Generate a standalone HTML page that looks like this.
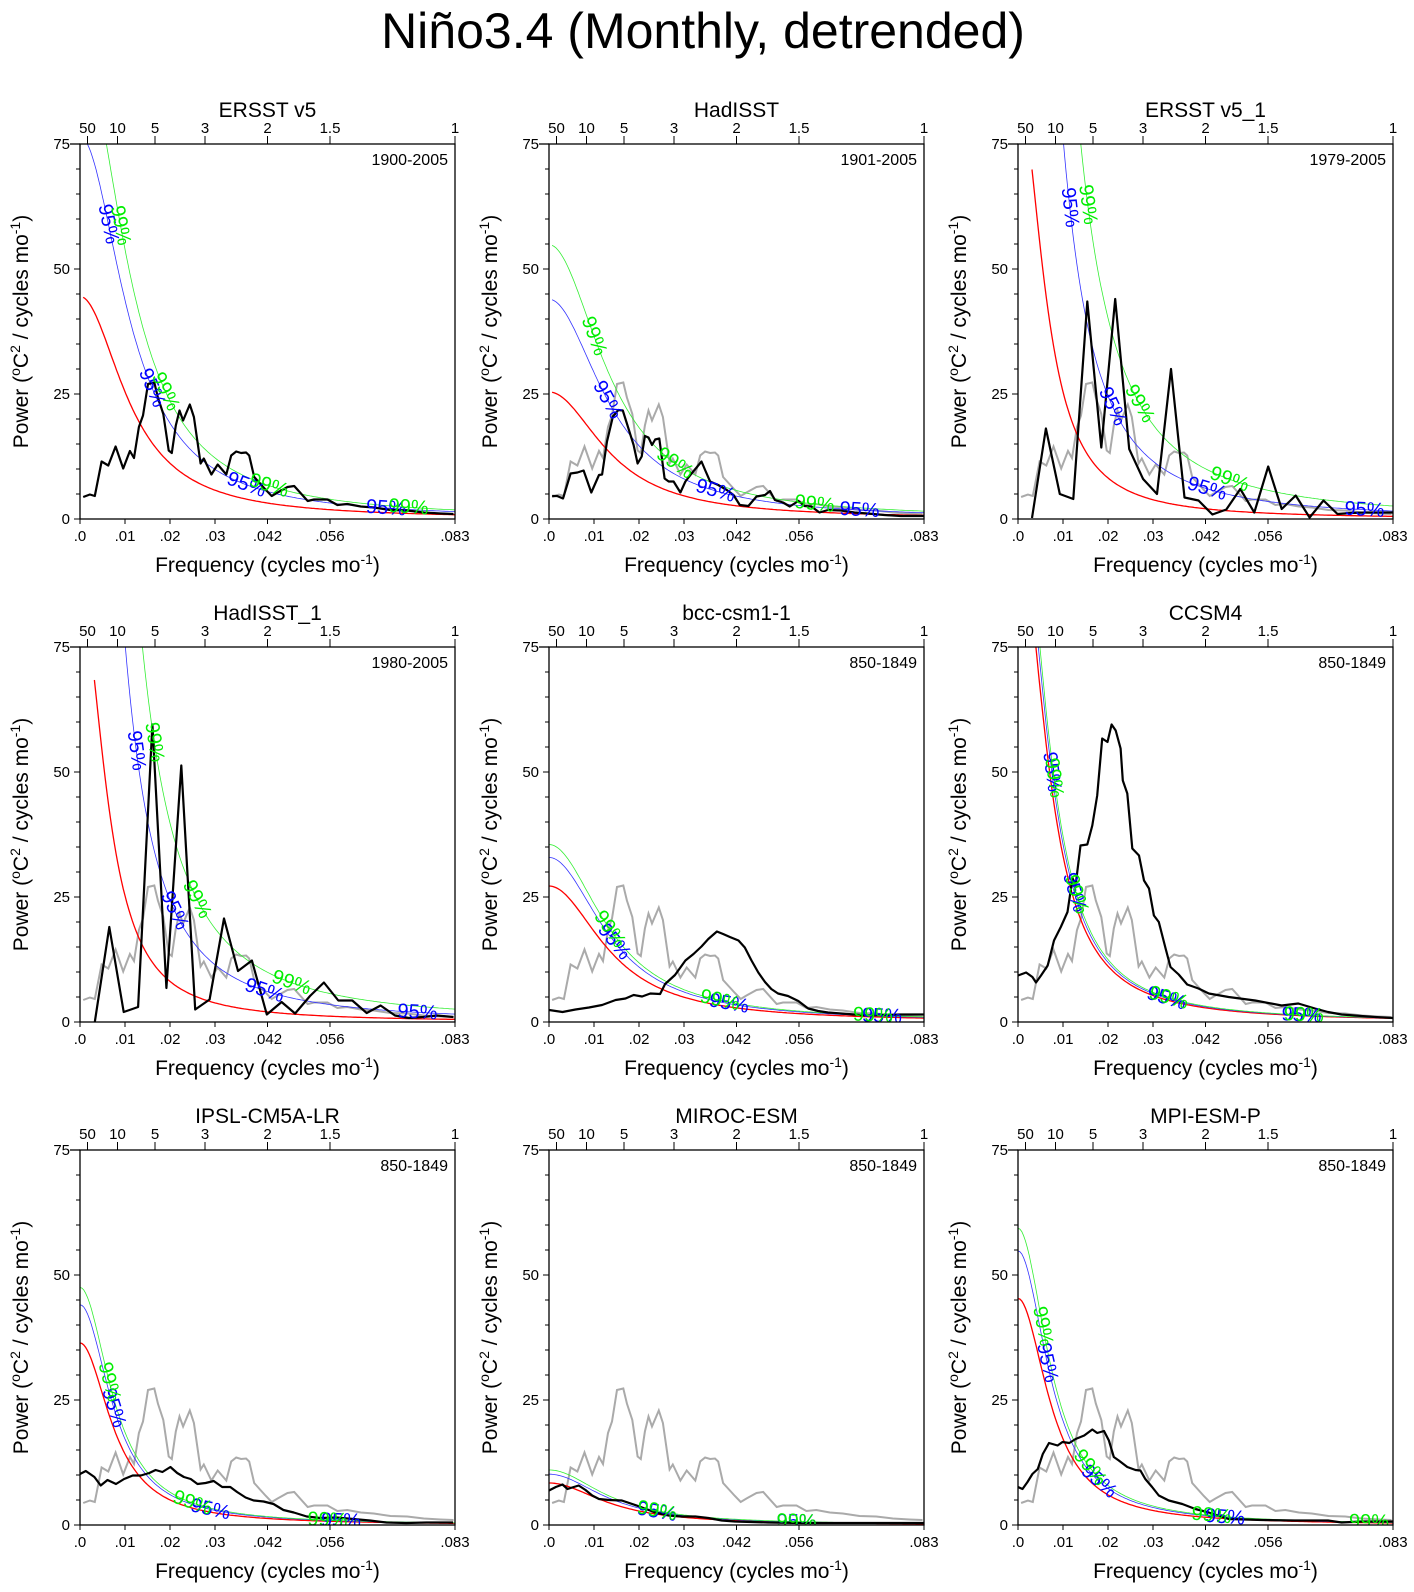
<!DOCTYPE html>
<html><head><meta charset="utf-8"><title>Niño3.4 spectra</title>
<style>
html,body{margin:0;padding:0;background:#fff;}
svg{display:block;font-family:"Liberation Sans",sans-serif;}
</style></head>
<body>
<svg id="fig" width="1414" height="1592" viewBox="0 0 1414 1592" xmlns="http://www.w3.org/2000/svg">
<text x="703" y="48" text-anchor="middle" font-size="50">Niño3.4 (Monthly, detrended)</text>
</svg>
<script>
// ---- data (frequency in cycles/month, power in °C²/(cycles/mo)) ----
const ersstFreq=[.0007,.0022,.0033,.0048,.0063,.0079,.0096,.0111,.0120,.0131,.0140,.0151,.0165,.0173,.0185,.0197,.0204,.0213,.0221,.0229,.0244,.0253,.0268,.0275,.0292,.0306,.0325,.0336,.0347,.0358,.0369,.0376,.0387,.0402,.0413,.0426,.0439,.0461,.0476,.0506,.0520,.0550,.0572,.0594,.0624,.0653,.0690,.0727,.0764,.0801,.0830];
const ersstPow=[4.4,4.9,4.6,11.5,10.7,14.5,10.1,13.6,12.2,18.4,20.7,27,27.3,24.3,21,13.7,13.2,18.7,21.7,19.7,22.9,20.4,11.1,12.1,8.9,10.9,8.9,12.7,13.5,13.2,13.3,12.7,8.4,6.9,5.8,4.6,5.3,6.4,6.6,3.6,3.9,3.9,2.8,3.0,2.5,2.3,1.8,1.7,1.3,1.1,1.0];
const hadFreq=[.0007,.0018,.0031,.0048,.0063,.0077,.0094,.0111,.0118,.0129,.0142,.0154,.0164,.0173,.0188,.0197,.0206,.0213,.0221,.0229,.0236,.0245,.0257,.0266,.0277,.0292,.0303,.0317,.0328,.0339,.0347,.0358,.0376,.0395,.0410,.0424,.0443,.0461,.0480,.0491,.0502,.0520,.0535,.0554,.0568,.0583,.0601,.0620,.0649,.0679,.0708,.0745,.0782,.0812,.0833];
const hadPow=[4.6,4.6,4.1,9.1,9.3,9.7,5.3,8.8,8.9,15.5,20.5,21.8,21.7,19.1,14.8,11.1,12.5,16.6,16.3,14.8,15.9,16.1,8.1,7.5,7.5,5.3,7.5,9.1,10.3,11.5,9.8,7.5,6.8,5.8,4.8,2.8,2.6,4.5,4.8,5.6,3.8,3.3,2.5,3.6,2.6,2.5,1.3,1.8,1.7,1.3,1.1,0.8,0.6,0.6,0.6];
const ersst1Freq=[.0031,.0062,.0093,.0123,.0154,.0185,.0216,.0247,.0278,.0309,.0340,.0370,.0401,.0432,.0463,.0494,.0525,.0556,.0586,.0617,.0648,.0679,.0710,.0741,.0772,.0802,.0833];
const ersst1Pow=[0.2,18.1,5,4,43.5,14.3,44,14,8,5,30,4.3,3.7,0.9,1.9,6,1.3,10.5,2,4.7,0.3,3.7,1,1.2,1.3,1.3,1.3];
const had1Freq=[.0033,.0065,.0097,.0129,.0161,.0192,.0225,.0256,.0288,.0320,.0351,.0382,.0415,.0448,.0478,.0511,.0542,.0574,.0605,.0637,.0668,.0700,.0731,.0762,.0793,.0830];
const had1Pow=[0,19,2,3,59.5,6.8,51.3,2.5,4.5,20.7,10.2,12.3,1.5,4,1.7,5.2,7.9,4.3,4.3,1.8,3.3,1.3,0.8,1,1.3,1];
const bccFreq=[0,.0030,.0059,.0089,.0118,.0148,.0170,.0188,.0207,.0225,.0247,.0258,.0280,.0303,.0321,.0339,.0354,.0373,.0387,.0402,.0421,.0435,.0450,.0465,.0480,.0494,.0509,.0531,.0554,.0576,.0598,.0620,.0649,.0679,.0708,.0738,.0782,.0812,.0833];
const bccPow=[2.4,2,2.5,2.9,3.4,4.4,4.7,5.4,5.1,5.7,5.6,7.6,9.4,12.3,13.6,15.1,16.6,18.1,17.6,17,16.3,14.9,12.3,9.9,8,6.6,5.7,5.2,4.2,2.7,2.2,1.9,1.7,1.5,1.3,1.4,1.5,1.5,1.5];
const ccsmFreq=[0,.0018,.0032,.0040,.0051,.0066,.0080,.0095,.0110,.0121,.0128,.0139,.0154,.0165,.0176,.0187,.0199,.0208,.0217,.0228,.0233,.0243,.0254,.0269,.0280,.0291,.0302,.0313,.0328,.0339,.0357,.0376,.0401,.0424,.0468,.0527,.0586,.0623,.0660,.0689,.0719,.0763,.0793,.0833];
const ccsmPow=[9.3,9.9,9,7.9,9.3,11.3,16.3,19,22,28.8,27.3,35.3,35.5,39.3,45.3,56.7,56,59.5,58.3,54.7,48.3,45.7,34.7,33.3,28.3,26.7,21.3,20,14.7,11,9.5,7.5,6.7,5.7,5,4.3,3.3,3.7,2.7,2,1.5,1.2,1,0.8];
const ipslFreq=[0,.0013,.0032,.0046,.0061,.0080,.0098,.0117,.0135,.0154,.0168,.0183,.0201,.0216,.0231,.0246,.0261,.0279,.0297,.0316,.0334,.0349,.0368,.0386,.0408,.0430,.0452,.0475,.0504,.0534,.0570,.0607,.0644,.0681,.0725,.0770,.0829];
const ipslPow=[10.2,10.8,9.6,7.9,9,8.2,9.2,9.9,9.9,10.4,11,10.6,11.6,10.4,9.6,9.2,8.2,8.4,8.8,7.6,7.6,6.6,5.5,4.9,4.7,4.2,3,2.5,1.7,1.4,1.5,1.2,0.9,0.5,0.4,0.5,0.5];
const mirocFreq=[0,.0015,.0030,.0041,.0055,.0066,.0081,.0096,.0111,.0133,.0162,.0185,.0207,.0236,.0266,.0295,.0325,.0354,.0384,.0413,.0487,.0561,.0635,.0708,.0812,.0833];
const mirocPow=[6.9,7.6,8.1,7.2,7.6,7.9,7,5.9,5.2,5,4.9,4.2,3.5,2.5,1.9,1.7,1.7,1.4,0.9,0.7,0.5,0.4,0.4,0.4,0.4,0.4];
const mpiFreq=[0,.0010,.0021,.0032,.0044,.0055,.0069,.0088,.0099,.0114,.0128,.0147,.0165,.0176,.0191,.0202,.0213,.0224,.0243,.0261,.0272,.0283,.0298,.0313,.0335,.0365,.0394,.0424,.0468,.0542,.0615,.0689,.0719,.0763,.0793,.0833];
const mpiPow=[7.6,7.2,8.6,10.2,11.2,14.2,16.4,15.9,16.6,16.4,17.2,17.9,19.1,18.4,18.8,16.9,13.6,12.9,11.6,11,10.9,9.2,7.6,5.9,4.9,4.2,3.2,2.5,1.2,1,0.9,0.9,0.5,0.7,0.7,0.7];
// panel titles and periods
const panelTitles=["ERSST v5","HadISST","ERSST v5_1","HadISST_1","bcc-csm1-1","CCSM4","IPSL-CM5A-LR","MIROC-ESM","MPI-ESM-P"];
const panelPeriods=["1900-2005","1901-2005","1979-2005","1980-2005","850-1849","850-1849","850-1849","850-1849","850-1849"];
// red-noise fits: value at f=0, lag-1 autocorrelation, first freq, 95% and 99% multipliers
const redS0=[44.5,25.4,85.8,85,27.2,98,36.4,8.4,45.3];
const redR=[.93,.915,.96,.96,.915,.956,.951,.915,.952];
const redFmin=[.0007,.0007,.0031,.0032,0,0,0,0,0];
const k95=[1.72,1.73,3.0,3.0,1.21,1.07,1.21,1.21,1.21];
const k99=[2.12,2.16,4.9,4.9,1.305,1.12,1.305,1.31,1.31];
const lbl95=[[.0063,.0160,.037,.068],[.013,.037,.069],[.0115,.021,.042,.077],[.0125,.021,.041,.075],[.0145,.040,.074],[.0075,.0125,.033,.063],[.0075,.029,.058],[.024,.055],[.0065,.018,.046]];
const lbl99=[[.0090,.0190,.042,.073],[.010,.028,.059],[.0155,.027,.047],[.0165,.026,.047],[.0135,.038,.072],[.008,.013,.0335,.0635],[.0065,.025,.055],[.024,.055],[.0055,.016,.043,.078]];
const xTickVals=[0,.01,.02,.03,1/24,1/18,1/12];
const xTickLabels=[".0",".01",".02",".03",".042",".056",".083"];
const periodTicks=[50,10,5,3,2,1.5,1];
const yTicks=[0,25,50,75];

const blackFreq=[ersstFreq,hadFreq,ersst1Freq,had1Freq,bccFreq,ccsmFreq,ipslFreq,mirocFreq,mpiFreq];
const blackPow=[ersstPow,hadPow,ersst1Pow,had1Pow,bccPow,ccsmPow,ipslPow,mirocPow,mpiPow];

const NS="http://www.w3.org/2000/svg";
const svg=document.getElementById('fig');
const colX=[80,549,1018], rowY=[144,647,1150], W=375, H=375, FMAX=1/12, YMAX=75;
function mk(tag,parent){const e=document.createElementNS(NS,tag);parent.appendChild(e);return e;}
function redAt(i,f){const r=redR[i],d=(1-r)*(1-r);return redS0[i]*d/(1+r*r-2*r*Math.cos(2*Math.PI*f));}

for(let i=0;i<9;i++){
  const L=colX[i%3], T=rowY[Math.floor(i/3)];
  const sx=f=>L+f/FMAX*W, sy=v=>T+H-v/YMAX*H;
  const g=mk('g',svg);
  
  
  const cp=mk('clipPath',g); cp.setAttribute('id','cp'+i);
  const cr=mk('rect',cp); cr.setAttribute('x',L);cr.setAttribute('y',T);cr.setAttribute('width',W);cr.setAttribute('height',H);
  const pg=mk('g',g); pg.setAttribute('clip-path','url(#cp'+i+')');
  
  
  if(i>0){
    const p=mk('path',pg);
    
    
    p.setAttribute('d',ersstFreq.map((f,j)=>(j?'L':'M')+sx(f).toFixed(1)+' '+sy(ersstPow[j]).toFixed(1)).join(''));
    p.setAttribute('fill','none');p.setAttribute('stroke','#aaaaaa');p.setAttribute('stroke-width','2');
  }
  const curves=[[1,'#ff0000',1.3,'red-noise-line'],[k95[i],'#3333ff',0.8,'ci95-line'],[k99[i],'#33ee33',0.8,'ci99-line']];
  curves.forEach(c=>{
    let d='';
    for(let n=0;n<=200;n++){const f=redFmin[i]+(FMAX-redFmin[i])*n/200;d+=(n?'L':'M')+sx(f).toFixed(1)+' '+sy(Math.min(redAt(i,f)*c[0],200)).toFixed(1);}
    const p=mk('path',pg);
    
    
    p.setAttribute('d',d);p.setAttribute('fill','none');p.setAttribute('stroke',c[1]);p.setAttribute('stroke-width',c[2]);
  });
  const bp=mk('path',pg);
  
  
  bp.setAttribute('d',blackFreq[i].map((f,j)=>(j?'L':'M')+sx(f).toFixed(1)+' '+sy(blackPow[i][j]).toFixed(1)).join(''));
  bp.setAttribute('fill','none');bp.setAttribute('stroke','#000');bp.setAttribute('stroke-width','2.2');bp.setAttribute('stroke-linejoin','round');
  [[lbl95[i],k95[i],'#0000ff','95%'],[lbl99[i],k99[i],'#00ee00','99%']].forEach(set=>{
    set[0].forEach(f=>{
      const x=sx(f),y=sy(redAt(i,f)*set[1]);
      if(y<T+5||y>T+H) return;
      const x2=sx(f+0.0005),y2=sy(redAt(i,f+0.0005)*set[1]);
      const ang=Math.atan2(y2-y,x2-x)*180/Math.PI;
      const t=mk('text',pg);
      
      
      t.setAttribute('x',x);t.setAttribute('y',y);t.setAttribute('fill',set[2]);t.setAttribute('font-size','20');
      t.setAttribute('text-anchor','middle');t.setAttribute('dominant-baseline','central');
      t.setAttribute('transform','rotate('+ang.toFixed(1)+' '+x.toFixed(1)+' '+y.toFixed(1)+')');
      t.textContent=set[3];
    });
  });
  const fr=mk('rect',g);
  
  
  fr.setAttribute('x',L);fr.setAttribute('y',T);fr.setAttribute('width',W);fr.setAttribute('height',H);fr.setAttribute('fill','none');fr.setAttribute('stroke','#000');fr.setAttribute('stroke-width','1.3');
  const tl=mk('line',g); tl.setAttribute('x1',L-10);tl.setAttribute('x2',L);tl.setAttribute('y1',T);tl.setAttribute('y2',T);tl.setAttribute('stroke','#000');tl.setAttribute('stroke-width','1.3');
  for(let v=0;v<=75;v+=5){
    const major=v%25===0, y=sy(v);
    const l=mk('line',g);l.setAttribute('x1',L-(major?6:4));l.setAttribute('x2',L);l.setAttribute('y1',y);l.setAttribute('y2',y);l.setAttribute('stroke','#000');l.setAttribute('stroke-width','1');
  }
  yTicks.forEach(v=>{
    const t=mk('text',g);
    
    
    t.setAttribute('x',L-10);t.setAttribute('y',sy(v)+5);t.setAttribute('text-anchor','end');t.setAttribute('font-size','15');t.textContent=v;
  });
  xTickVals.forEach((f,j)=>{
    const x=sx(f);
    const l=mk('line',g);l.setAttribute('x1',x);l.setAttribute('x2',x);l.setAttribute('y1',T+H);l.setAttribute('y2',T+H+5);l.setAttribute('stroke','#000');
    const t=mk('text',g);
    
    
    t.setAttribute('x',x);t.setAttribute('y',T+H+22);t.setAttribute('text-anchor','middle');t.setAttribute('font-size','15');t.textContent=xTickLabels[j];
  });
  periodTicks.forEach(p=>{
    const x=sx(1/(12*p));
    const l=mk('line',g);l.setAttribute('x1',x);l.setAttribute('x2',x);l.setAttribute('y1',T);l.setAttribute('y2',T-8);l.setAttribute('stroke','#000');
    const t=mk('text',g);
    
    
    t.setAttribute('x',x);t.setAttribute('y',T-11);t.setAttribute('text-anchor','middle');t.setAttribute('font-size','15');t.textContent=p;
  });
  const ti=mk('text',g);
  
  
  ti.setAttribute('x',L+W/2);ti.setAttribute('y',T-27);ti.setAttribute('text-anchor','middle');ti.setAttribute('font-size','21');ti.textContent=panelTitles[i];
  const pr=mk('text',g);
  
  
  pr.setAttribute('x',L+W-7);pr.setAttribute('y',T+21);pr.setAttribute('text-anchor','end');pr.setAttribute('font-size','16');pr.textContent=panelPeriods[i];
  const xt=mk('text',g);
  
  
  xt.setAttribute('x',L+W/2);xt.setAttribute('y',T+H+53);xt.setAttribute('text-anchor','middle');xt.setAttribute('font-size','21');
  xt.innerHTML='Frequency (cycles mo<tspan dy="-8" font-size="14">-1</tspan><tspan dy="8">)</tspan>';
  const yt=mk('text',g);
  
  
  const yx=L-52, yy=T+H/2;
  yt.setAttribute('x',yx);yt.setAttribute('y',yy);yt.setAttribute('text-anchor','middle');yt.setAttribute('font-size','21');
  yt.setAttribute('transform','rotate(-90 '+yx+' '+yy+')');
  yt.innerHTML='Power (<tspan dy="-8" font-size="14">o</tspan><tspan dy="8">C</tspan><tspan dy="-8" font-size="14">2</tspan><tspan dy="8"> / cycles mo</tspan><tspan dy="-8" font-size="14">-1</tspan><tspan dy="8">)</tspan>';
}
</script>
</body></html>
